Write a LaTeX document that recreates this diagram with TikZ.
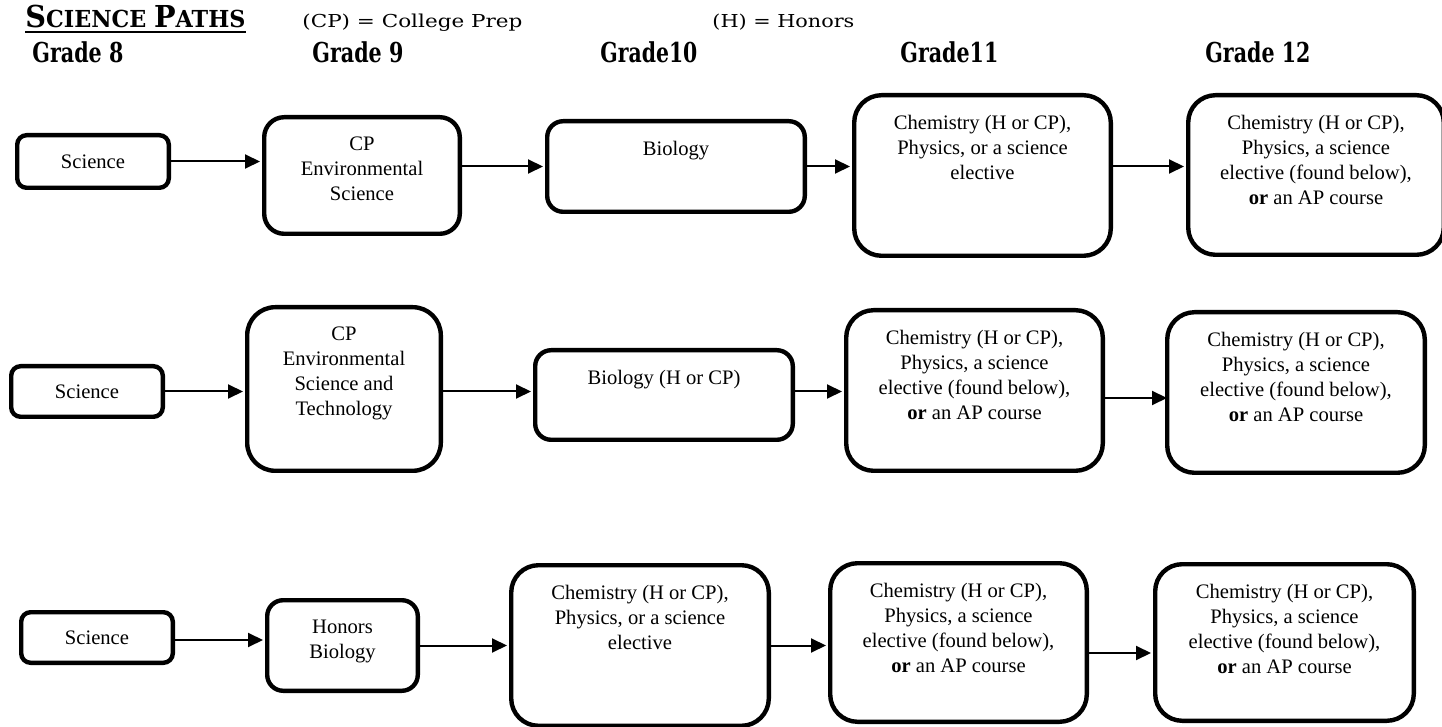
\documentclass[tikz,border=0pt]{standalone}
\usepackage{fontspec}
\usepackage{graphicx}
\setmainfont{Liberation Serif}
\newfontfamily\hdrfont{DejaVu Serif}
\usetikzlibrary{arrows.meta}

\tikzset{
  card/.style={draw, line width=2.2pt, fill=white, inner sep=0pt},
  wh/.style 2 args={minimum width=#1*0.5pt-2.2pt, minimum height=#2*0.5pt-2.2pt},
  flow/.style={line width=1pt, -{Triangle[length=7.5pt,width=7pt]}, shorten >=1pt},
  txt/.style={anchor=north, inner sep=0pt, align=center, font=\fontsize{10.3}{12.5}\selectfont},
  grade/.style={anchor=base west, inner sep=0pt, font=\hdrfont\bfseries\fontsize{13.7}{16}\selectfont},
  keytxt/.style={anchor=base west, inner sep=0pt, font=\hdrfont\fontsize{8.9}{11}\selectfont},
}

\begin{document}
\begin{tikzpicture}[x=0.5pt, y=-0.5pt]
\useasboundingbox (0,0) rectangle (1442,727);

% ---------- heading ----------
\node[anchor=base west, inner sep=0pt, font=\hdrfont\bfseries] (title) at (25,28)
  {\resizebox{110pt}{\height}{{\fontsize{15.1}{16}\selectfont S}{\fontsize{11.7}{14}\selectfont CIENCE }{\fontsize{15.1}{16}\selectfont P}{\fontsize{11.7}{14}\selectfont ATHS}}};
\draw[line width=1pt] ([yshift=-2.2pt]title.base west) -- ([yshift=-2.2pt]title.base east);
\node[keytxt] (cpkey) at (302,28) {\resizebox{110pt}{\height}{(CP) = College Prep}};
\node[keytxt] (hkey) at (712,28) {\resizebox{71pt}{\height}{(H) = Honors}};

\node[grade] (g8)  at (32,63)   {\resizebox{45.5pt}{\height}{Grade 8}};
\node[grade] (g9)  at (312,63)  {\resizebox{45.5pt}{\height}{Grade 9}};
\node[grade] (g10) at (600,63)  {\resizebox{48.5pt}{\height}{Grade10}};
\node[grade] (g11) at (900,63)  {\resizebox{49pt}{\height}{Grade11}};
\node[grade] (g12) at (1205,63) {\resizebox{52.5pt}{\height}{Grade 12}};

% ---------- path 1 ----------
\node[card, wh={156}{57}, rounded corners=4.7pt, font=\fontsize{10.3}{12.5}\selectfont] (s1) at (93,161.5) {Science};
\node[card, wh={200}{121}, rounded corners=10pt]  (a1) at (362,175.5) {};
\node[card, wh={262}{95},  rounded corners=8pt]   (b1) at (676,166.5) {};
\node[card, wh={261}{165}, rounded corners=13.7pt] (c1) at (982.5,175.5) {};
\node[card, wh={260}{164}, rounded corners=13.7pt] (d1) at (1316,175) {};

\node[txt] (a1t) at ([yshift=-10.8pt]a1.north) {CP\\Environmental\\Science};
\node[txt] (b1t) at ([yshift=-10.8pt]b1.north) {Biology};
\node[txt] (c1t) at ([yshift=-10.8pt]c1.north) {Chemistry (H or CP),\\Physics, or a science\\elective};
\node[txt] (d1t) at ([yshift=-10.8pt]d1.north) {Chemistry (H or CP),\\Physics, a science\\elective (found below),\\\textbf{or} an AP course};

\draw[flow] (s1.east) -- (s1.east -| a1.west);
\draw[flow] (a1.east |- b1.west) -- (b1.west);
\draw[flow] (b1.east) -- (b1.east -| c1.west);
\draw[flow] (c1.east |- b1.east) -- (d1.west |- b1.east);

% ---------- path 2 ----------
\node[card, wh={156}{55}, rounded corners=4.7pt, font=\fontsize{10.3}{12.5}\selectfont] (s2) at (87,391.5) {Science};
\node[card, wh={198}{168}, rounded corners=14pt]  (a2) at (344,389) {};
\node[card, wh={262}{94},  rounded corners=8pt]   (b2) at (664,395) {};
\node[card, wh={261}{165}, rounded corners=13.7pt] (c2) at (974.5,390.5) {};
\node[card, wh={262}{165}, rounded corners=13.7pt] (d2) at (1296,392.5) {};

\node[txt] (a2t) at ([yshift=-10.8pt]a2.north) {CP\\Environmental\\Science and\\Technology};
\node[txt] (b2t) at ([yshift=-10.8pt]b2.north) {Biology (H or CP)};
\node[txt] (c2t) at ([yshift=-10.8pt]c2.north) {Chemistry (H or CP),\\Physics, a science\\elective (found below),\\\textbf{or} an AP course};
\node[txt] (d2t) at ([yshift=-10.8pt]d2.north) {Chemistry (H or CP),\\Physics, a science\\elective (found below),\\\textbf{or} an AP course};

\draw[flow] (s2.east) -- (s2.east -| a2.west);
\draw[flow] (a2.east |- s2.east) -- (b2.west |- s2.east);
\draw[flow] (b2.east |- s2.east) -- (c2.west |- s2.east);
\draw[flow, shorten >=-1pt] ([yshift=-3.75pt]c2.east) -- ([yshift=-3.75pt]c2.east -| d2.west);

% ---------- path 3 ----------
\node[card, wh={156}{55}, rounded corners=4.7pt, font=\fontsize{10.3}{12.5}\selectfont] (s3) at (97,637.5) {Science};
\node[card, wh={155}{95},  rounded corners=8pt]   (a3) at (342.5,645.5) {};
\node[card, wh={262}{165}, rounded corners=13.7pt] (b3) at (640,645.5) {};
\node[card, wh={261}{163}, rounded corners=13.7pt] (c3) at (958.5,642.5) {};
\node[card, wh={263}{161}, rounded corners=13.5pt] (d3) at (1284.5,642.5) {};

\node[txt] (a3t) at ([yshift=-10.8pt]a3.north) {Honors\\Biology};
\node[txt] (b3t) at ([yshift=-10.8pt]b3.north) {Chemistry (H or CP),\\Physics, or a science\\elective};
\node[txt] (c3t) at ([yshift=-10.8pt]c3.north) {Chemistry (H or CP),\\Physics, a science\\elective (found below),\\\textbf{or} an AP course};
\node[txt] (d3t) at ([yshift=-10.8pt]d3.north) {Chemistry (H or CP),\\Physics, a science\\elective (found below),\\\textbf{or} an AP course};

\draw[flow] ([yshift=-1.25pt]s3.east) -- ([yshift=-1.25pt]s3.east -| a3.west);
\draw[flow] (a3.east) -- (a3.east -| b3.west);
\draw[flow] (b3.east) -- (b3.east -| c3.west);
\draw[flow] ([yshift=-5.25pt]c3.east) -- ([yshift=-5.25pt]c3.east -| d3.west);
\end{tikzpicture}
\end{document}
